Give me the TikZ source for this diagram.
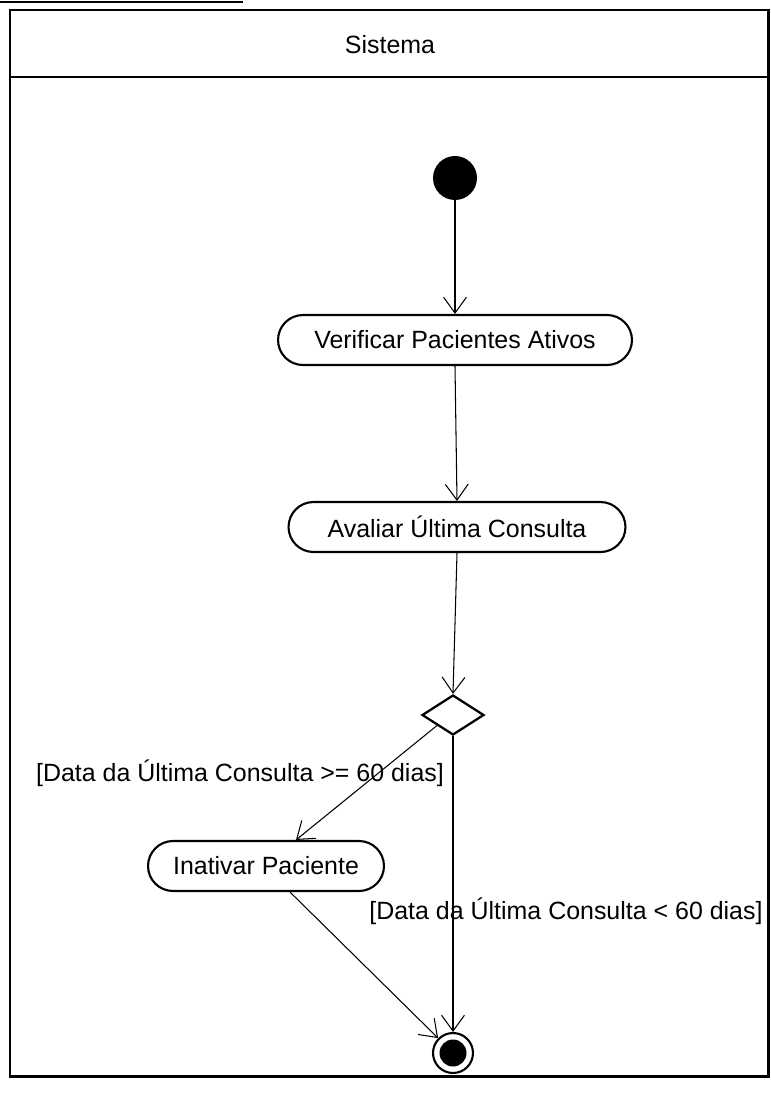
\documentclass[tikz,border=0pt]{standalone}
\usepackage{fontspec}
\setmainfont{Liberation Sans}
\usetikzlibrary{arrows.meta, positioning, shapes.geometric}

\begin{document}
\begin{tikzpicture}[
    x=0.02cm, y=-0.02cm,
    every node/.style={font=\fontsize{14.2}{17}\selectfont},
    action/.style={rectangle, rounded corners=0.5cm, draw=black, line width=1.2pt, minimum height=1cm, inner sep=2pt},
    initial/.style={circle, fill=black, minimum size=0.88cm, inner sep=0pt},
    final/.style={circle, draw=black, line width=1.2pt, minimum size=0.8cm, inner sep=0pt,
        path picture={\fill[black] (path picture bounding box.center) circle (0.27cm);}},
    decision/.style={diamond, draw=black, line width=1.3pt, minimum width=1.24cm, minimum height=0.8cm, inner sep=0pt},
    guard/.style={inner sep=1pt},
    flow/.style={-{Straight Barb[length=9pt, width=13pt]}, line width=0.6pt},
]
\useasboundingbox (0,0) rectangle (771,1106);

% partition frame
\draw[line width=1.5pt] (0,2) -- (243,2);
\draw[line width=1.7pt] (10,10) rectangle (768,1076);
\draw[line width=1.7pt] (10,77) -- (768,77);
\node (lane) at (390,45) {Sistema};

% nodes
\node[initial] (ini) at (455,178) {};
\node[action, minimum width=7.08cm] (verif) at (455,340) {Verificar Pacientes Ativos};
\node[action, minimum width=6.74cm] (aval) at (457,527) {Avaliar Última Consulta};
\node[decision] (dec) at (453,715) {};
\node[action, minimum width=4.72cm] (inat) at (266,866) {Inativar Paciente};
\node[final] (fim) at (453,1053) {};

% guards
\node[guard] (g1) at (240,773) {[Data da Última Consulta >= 60 dias]};
\node[guard] (g2) at (566,911) {[Data da Última Consulta < 60 dias]};

% flows
\draw[flow] (ini) -- (verif.north);
\draw[flow] (verif.south) -- (aval.north);
\draw[flow] (aval.south) -- (dec.north);
\draw[flow] (dec.south west) -- ([xshift=0.6cm]inat.north);
\draw[flow] (dec.south) -- (fim.north);
\draw[flow] ([xshift=0.48cm]inat.south) -- (fim.north west);
\end{tikzpicture}
\end{document}
